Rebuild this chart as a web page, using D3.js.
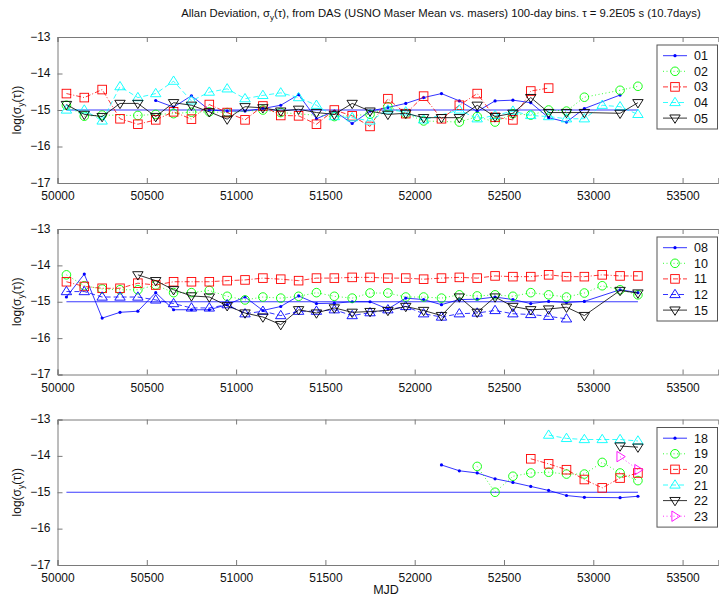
<!DOCTYPE html>
<html><head><meta charset="utf-8">
<script src="https://cdn.jsdelivr.net/npm/d3@7/dist/d3.min.js"></script>
<style>body{margin:0;background:#fff}svg{display:block}text{font-family:"Liberation Sans",Arial,sans-serif}</style>
</head><body><svg id="c" width="719" height="602"></svg>
<script>
const titleText = "Allan Deviation, σ_y(τ), from DAS (USNO Maser Mean vs. masers) 100-day bins. τ = 9.2E05 s (10.7days)";
const xTicks = [50000, 50500, 51000, 51500, 52000, 52500, 53000, 53500];
const yTicks = [-13, -14, -15, -16, -17];
const bins = [50050,50150,50250,50350,50450,50550,50650,50750,50850,50950,51050,51150,51250,51350,51450,51550,51650,51750,51850,51950,52050,52150,52250,52350,52450,52550,52650,52750,52850,52950,53050,53150,53250];
const refLevel = -15;

// Panel 1
const s01 = [null,null,null,null,null,-14.74,-14.92,-14.61,-15.0,-15.03,-15.03,-14.96,-14.87,-14.58,-15.24,-15.03,-15.37,-15.03,-14.93,-14.82,-14.66,-14.55,-14.75,-15.04,-14.75,-14.73,-14.8,-15.21,-15.33,-14.96,null,-14.59,null];
const s02 = [-14.87,-15.17,-15.14,null,-15.15,-15.12,-15.1,-15.06,-15.05,-15.07,null,-15.0,-15.07,null,null,-15.18,null,-15.12,-14.91,-15.1,-15.3,null,-15.33,-15.18,-15.33,-15.1,-15.14,-15.0,-15.03,-14.65,null,-14.46,-14.35];
const s03 = [-14.55,-14.66,-14.44,-15.24,-15.39,-15.27,-15.05,-15.25,-14.85,-15.07,-15.27,-14.89,-15.15,-15.16,-15.39,-15.0,-15.16,-15.45,-14.69,-15.1,-14.62,-15.24,-14.87,-14.55,-15.2,-15.27,-14.48,-14.4,null,null,null,null,null];
const s04 = [-15.0,-15.0,-15.3,-14.36,-14.66,-14.55,-14.21,-14.75,-14.51,-14.42,-14.69,-14.6,-14.53,-14.66,-14.87,-15.18,-15.21,-15.3,-15.0,-15.05,-15.27,null,-15.0,-15.24,-15.15,-15.03,-15.15,-15.18,-15.24,-15.24,-14.87,-14.91,-15.12];
const s05 = [-14.85,-15.12,-15.18,-14.82,-14.82,-15.18,-14.8,-14.87,-15.05,-15.25,-14.91,-14.94,-15.03,-14.98,-15.07,-15.12,-14.82,-15.03,-15.12,-15.09,-15.21,-15.21,-15.21,-14.87,-15.18,-15.09,-14.66,-15.07,-15.07,-15.07,null,-15.09,-14.8];
// Panel 2
const s08 = [-14.87,-14.24,-15.45,-15.29,-15.26,-14.75,-15.22,-15.22,-15.22,-15.08,-14.87,-15.24,-15.13,-14.84,-15.05,-15.04,-15.0,-15.0,-15.2,-14.9,-14.94,-15.08,-14.94,-14.93,-14.87,-14.94,-15.05,-14.99,-15.02,-14.99,null,-14.67,-14.75];
const s10 = [-14.26,-14.56,-14.65,-14.67,-14.67,-14.54,-14.75,-14.75,-14.69,-14.85,-14.95,-14.87,-14.9,-14.85,-14.75,-14.85,-14.9,-14.76,-14.76,-14.87,-14.87,-14.9,-14.81,-14.84,-14.81,-14.85,-14.75,-14.81,-14.87,-14.76,-14.56,-14.67,-14.81];
const s11 = [-14.45,-14.58,-14.63,-14.63,-14.49,-14.54,-14.45,-14.45,-14.45,-14.42,-14.4,-14.35,-14.38,-14.42,-14.35,-14.35,-14.33,-14.33,-14.35,-14.35,-14.38,-14.35,-14.33,-14.35,-14.29,-14.31,-14.31,-14.26,-14.31,-14.31,-14.26,-14.29,-14.29];
const s12 = [-14.72,-14.72,-14.87,-14.87,-14.87,-14.95,-15.05,-15.17,-15.17,-15.08,-15.33,-15.26,-15.38,-15.26,-15.26,-15.22,-15.38,-15.3,-15.22,-15.13,-15.33,-15.42,-15.33,-15.31,-15.24,-15.33,-15.35,-15.4,-15.47,null,null,null,null];
const s15 = [null,null,null,null,-14.26,-14.42,-14.67,-14.84,-14.87,-15.11,-15.31,-15.42,-15.63,-15.22,-15.31,-15.17,-15.29,-15.27,-15.24,-15.13,-15.24,-15.38,-14.87,-15.29,-14.87,-15.13,-15.22,-15.2,-15.15,-15.38,null,-14.69,-14.76];
// Panel 3
const s18 = [null,null,null,null,null,null,null,null,null,null,null,null,null,null,null,null,null,null,null,null,null,-14.25,-14.41,-14.47,-14.63,-14.73,-14.84,-14.95,-15.09,-15.14,null,-15.15,-15.11];
const s19 = [null,null,null,null,null,null,null,null,null,null,null,null,null,null,null,null,null,null,null,null,null,null,null,-14.29,-15.0,-14.56,-14.47,-14.45,-14.5,-14.5,-14.18,-14.47,-14.68];
const s20 = [null,null,null,null,null,null,null,null,null,null,null,null,null,null,null,null,null,null,null,null,null,null,null,null,null,null,-14.08,-14.22,-14.38,-14.65,-14.88,-14.61,-14.47];
const s21 = [null,null,null,null,null,null,null,null,null,null,null,null,null,null,null,null,null,null,null,null,null,null,null,null,null,null,null,-13.43,-13.52,-13.55,-13.55,-13.55,-13.59];
const s22 = [null,null,null,null,null,null,null,null,null,null,null,null,null,null,null,null,null,null,null,null,null,null,null,null,null,null,null,null,null,null,null,-13.73,-13.76];
const s23 = [null,null,null,null,null,null,null,null,null,null,null,null,null,null,null,null,null,null,null,null,null,null,null,null,null,null,null,null,null,null,null,-14.02,-14.38];

const panels = [
  {top:37, bottom:183, series:[
    {name:"01", data:s01, color:"#0000ff", dash:null, marker:"dot"},
    {name:"02", data:s02, color:"#00ff00", dash:"1,2.5", marker:"circle"},
    {name:"03", data:s03, color:"#ff0000", dash:"5,2,1,2", marker:"square"},
    {name:"04", data:s04, color:"#00ffff", dash:"5,3", marker:"tri"},
    {name:"05", data:s05, color:"#000000", dash:null, marker:"tridown"}]},
  {top:229, bottom:374.5, series:[
    {name:"08", data:s08, color:"#0000ff", dash:null, marker:"dot"},
    {name:"10", data:s10, color:"#00ff00", dash:"1,2.5", marker:"circle"},
    {name:"11", data:s11, color:"#ff0000", dash:"5,2,1,2", marker:"square"},
    {name:"12", data:s12, color:"#0000ff", dash:"5,3", marker:"tri"},
    {name:"15", data:s15, color:"#000000", dash:null, marker:"tridown"}]},
  {top:419.5, bottom:565, series:[
    {name:"18", data:s18, color:"#0000ff", dash:null, marker:"dot"},
    {name:"19", data:s19, color:"#00ff00", dash:"1,2.5", marker:"circle"},
    {name:"20", data:s20, color:"#ff0000", dash:"5,2,1,2", marker:"square"},
    {name:"21", data:s21, color:"#00ffff", dash:"5,3", marker:"tri"},
    {name:"22", data:s22, color:"#000000", dash:null, marker:"tridown"},
    {name:"23", data:s23, color:"#ff00ff", dash:"1,2.5", marker:"triright"}]}
];

const svg = d3.select("#c");
const x = d3.scaleLinear().domain([50000, 53700]).range([57.5, 718.3]);
const axisColor = "#7a7a7a";
const tickFont = 12;

function drawMarker(g, type, cx, cy, color) {
  const s = 4.3;
  if (type === "dot") {
    g.append("circle").attr("cx", cx).attr("cy", cy).attr("r", 1.6).attr("fill", color).attr("stroke", "none");
  } else if (type === "circle") {
    g.append("circle").attr("cx", cx).attr("cy", cy).attr("r", s).attr("fill", "none").attr("stroke", color).attr("stroke-width", 0.9);
  } else if (type === "square") {
    g.append("rect").attr("x", cx - s).attr("y", cy - s).attr("width", 2*s).attr("height", 2*s).attr("fill", "none").attr("stroke", color).attr("stroke-width", 0.9);
  } else {
    let pts;
    const r = 5.2;
    if (type === "tri") pts = [[cx, cy - r], [cx - r, cy + r*0.6], [cx + r, cy + r*0.6]];
    else if (type === "tridown") pts = [[cx, cy + r], [cx - r, cy - r*0.6], [cx + r, cy - r*0.6]];
    else pts = [[cx + r, cy], [cx - r*0.6, cy - r], [cx - r*0.6, cy + r]];
    g.append("polygon").attr("points", pts.map(p => p.join(",")).join(" ")).attr("fill", "none").attr("stroke", color).attr("stroke-width", 0.9);
  }
}

panels.forEach((p, pi) => {
  const y = d3.scaleLinear().domain([-17, -13]).range([p.bottom, p.top]);
  const g = svg.append("g");
  const clipId = "clip" + pi;
  svg.append("clipPath").attr("id", clipId).append("rect")
    .attr("x", x.range()[0]).attr("y", p.top).attr("width", x.range()[1] - x.range()[0]).attr("height", p.bottom - p.top);

  const xb = g.append("g").attr("transform", `translate(0,${p.bottom})`)
    .call(d3.axisBottom(x).tickValues(xTicks).tickSize(-5).tickPadding(11).tickFormat(d3.format("d")));
  const xt = g.append("g").attr("transform", `translate(0,${p.top})`)
    .call(d3.axisTop(x).tickValues(xTicks).tickSize(-5).tickFormat(""));
  const yl = g.append("g").attr("transform", `translate(${x.range()[0]},0)`)
    .call(d3.axisLeft(y).tickValues(yTicks).tickSize(-5).tickPadding(7).tickFormat(d => "\u2212" + Math.abs(d)));
  [xb, xt, yl].forEach(a => {
    a.select(".domain").attr("stroke", axisColor).attr("stroke-width", 1);
    a.selectAll(".tick line").attr("stroke", axisColor);
    a.selectAll("text").attr("font-size", tickFont).attr("fill", "#111").attr("font-family", '"Liberation Sans",Arial,sans-serif');
  });
  xb.selectAll("text").attr("dy", "0.5em");
  yl.selectAll("text").attr("dy", "0.25em");

  const plot = g.append("g").attr("clip-path", `url(#${clipId})`);
  plot.append("line").attr("x1", x(bins[0])).attr("x2", x(bins[bins.length-1]))
    .attr("y1", y(refLevel)).attr("y2", y(refLevel)).attr("stroke", "#3b3bff").attr("stroke-width", 1.2);

  const line = d3.line().x(d => x(d[0])).y(d => y(d[1]));
  p.series.forEach(s => {
    const pts = bins.map((b, i) => [b, s.data[i]]).filter(d => d[1] !== null);
    const path = plot.append("path").attr("d", line(pts)).attr("fill", "none")
      .attr("stroke", s.color).attr("stroke-width", 0.8);
    if (s.dash) path.attr("stroke-dasharray", s.dash);
    pts.forEach(d => drawMarker(plot, s.marker, x(d[0]), y(d[1]), s.color));
  });

  const yc = (p.top + p.bottom) / 2;
  const lab = g.append("text").attr("transform", `translate(21,${yc}) rotate(-90)`)
    .attr("text-anchor", "middle").attr("font-size", 12).attr("fill", "#111");
  lab.append("tspan").text("log(σ");
  lab.append("tspan").attr("font-size", 8.5).attr("dy", 3).text("y");
  lab.append("tspan").attr("dy", -3).text("(τ))");

  const n = p.series.length;
  const lg = g.append("g");
  const lx = 657, ly = p.top + 8, step = 15.6;
  lg.append("rect").attr("x", lx).attr("y", ly).attr("width", 60.5).attr("height", n * step + 6)
    .attr("fill", "#fff").attr("stroke", "#555").attr("stroke-width", 1);
  p.series.forEach((s, i) => {
    const cy = ly + 10.7 + i * step;
    const l = lg.append("line").attr("x1", lx + 6).attr("x2", lx + 30).attr("y1", cy).attr("y2", cy)
      .attr("stroke", s.color).attr("stroke-width", 0.8);
    if (s.dash) l.attr("stroke-dasharray", s.dash);
    drawMarker(lg, s.marker, lx + 18, cy, s.color);
    lg.append("text").attr("x", lx + 37).attr("y", cy + 4.5).attr("font-size", 12.5).attr("fill", "#111").text(s.name);
  });
});

const t = svg.append("text").attr("x", 441).attr("y", 17).attr("text-anchor", "middle").attr("font-size", 11.3).attr("fill", "#111");
const parts = titleText.split("σ_y");
t.append("tspan").text(parts[0] + "σ");
t.append("tspan").attr("font-size", 8).attr("dy", 3).text("y");
t.append("tspan").attr("dy", -3).text(parts[1]);

svg.append("text").attr("x", 386).attr("y", 594).attr("text-anchor", "middle").attr("font-size", 12.5).attr("fill", "#111").text("MJD");
</script></body></html>
